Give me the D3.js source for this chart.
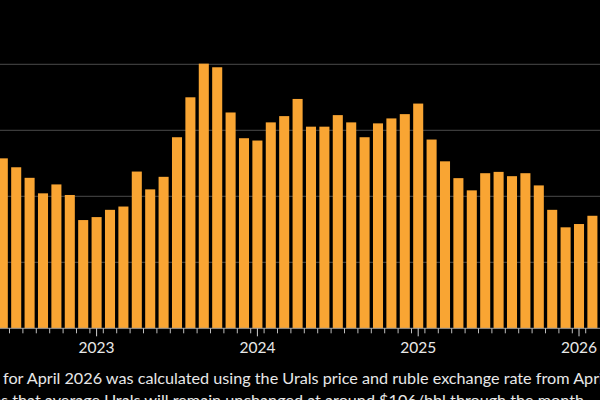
<!DOCTYPE html>
<html>
<head>
<meta charset="utf-8">
<script src="https://cdn.jsdelivr.net/npm/d3@7"></script>
<style>
  html, body { margin: 0; padding: 0; background: #000; }
  svg { display: block; }
  text { font-family: Lato, "Open Sans", sans-serif; fill: #e8e8e8; }
</style>
</head>
<body>
<div id="chart"></div>
<script>
// Urals price in rubles per barrel, monthly, Jun 2022 - Feb 2026
const months = d3.timeMonths(new Date(2022, 5, 1), new Date(2026, 2, 1));
const uralsRub = [
  5150, 4880, 4560, 4090, 4360, 4040, 3280,
  3370, 3590, 3690, 4750, 4210, 4590, 5790, 7000, 8020, 7910, 6540, 5760,
  5690, 6240, 6430, 6950, 6110, 6110, 6460, 6240, 5790, 6210, 6360, 6490,
  6810, 5720, 5060, 4550, 4180, 4700, 4740, 4610, 4700, 4330, 3590, 3060,
  3160, 3410
];
const yTicks = [2000, 4000, 6000, 8000];
const yearLabels = ["2023", "2024", "2025", "2026"];
const noteLines = [
  "for April 2026 was calculated using the Urals price and ruble exchange rate from April",
  "assumes that average Urals will remain unchanged at around $106/bbl through the month."
];

const width = 600;
const height = 400;
const baseY = 328.3;
const topY = 64.3;
const step = 13.4;

const svg = d3.select("#chart")
  .append("svg")
  .attr("width", width)
  .attr("height", height);

svg.append("rect")
  .attr("width", width)
  .attr("height", height)
  .attr("fill", "#000");

const x = d3.scaleBand()
  .domain(months.map(d => +d))
  .range([-3.9, -3.9 + months.length * step])
  .paddingInner(0.25)
  .paddingOuter(0.125);

const y = d3.scaleLinear()
  .domain([0, 8000])
  .range([baseY, topY]);

// gridlines
svg.append("g")
  .selectAll("line")
  .data(yTicks)
  .enter().append("line")
  .attr("x1", 0)
  .attr("x2", width)
  .attr("y1", d => y(d))
  .attr("y2", d => y(d))
  .attr("stroke", "#4a4a4a")
  .attr("stroke-width", 1);

// bars
svg.append("g")
  .selectAll("rect")
  .data(uralsRub)
  .enter().append("rect")
  .attr("x", (d, i) => x(+months[i]))
  .attr("width", x.bandwidth())
  .attr("y", d => y(d))
  .attr("height", d => y(0) - y(d))
  .attr("fill", "#f9a533");

// baseline
svg.append("line")
  .attr("x1", 0)
  .attr("x2", width)
  .attr("y1", baseY)
  .attr("y2", baseY)
  .attr("stroke", "#9a9a9a")
  .attr("stroke-width", 1);

// minor ticks between months
const gap = x.step() - x.bandwidth();
svg.append("g")
  .selectAll("line")
  .data(months)
  .enter().append("line")
  .attr("x1", d => x(+d) - gap / 2)
  .attr("x2", d => x(+d) - gap / 2)
  .attr("y1", baseY)
  .attr("y2", baseY + 5)
  .attr("stroke", "#bdbdbd")
  .attr("stroke-width", 1);

// year ticks and labels at January bars
const januaries = months.filter(d => d.getMonth() === 0);
const yearAxis = svg.append("g");
januaries.forEach((d, i) => {
  const cx = x(+d) + x.bandwidth() / 2;
  yearAxis.append("line")
    .attr("x1", cx)
    .attr("x2", cx)
    .attr("y1", baseY)
    .attr("y2", baseY + 8)
    .attr("stroke", "#d0d0d0")
    .attr("stroke-width", 1);
  yearAxis.append("text")
    .attr("x", cx)
    .attr("y", 353)
    .attr("text-anchor", "middle")
    .style("font-size", "15.5px")
    .text(yearLabels[i]);
});

// footnote (left part cut off in the crop)
svg.append("text")
  .attr("x", 3)
  .attr("y", 384)
  .style("font-size", "16.2px")
  .text(noteLines[0]);

const note2 = svg.append("text")
  .attr("y", 406)
  .style("font-size", "16.2px")
  .text(noteLines[1]);

// place second line so that "assume" falls off the left edge
const probe = svg.append("text").style("font-size", "16.2px").text("assume");
const shift = probe.node().getComputedTextLength();
probe.remove();
note2.attr("x", 1 - shift);
</script>
</body>
</html>
